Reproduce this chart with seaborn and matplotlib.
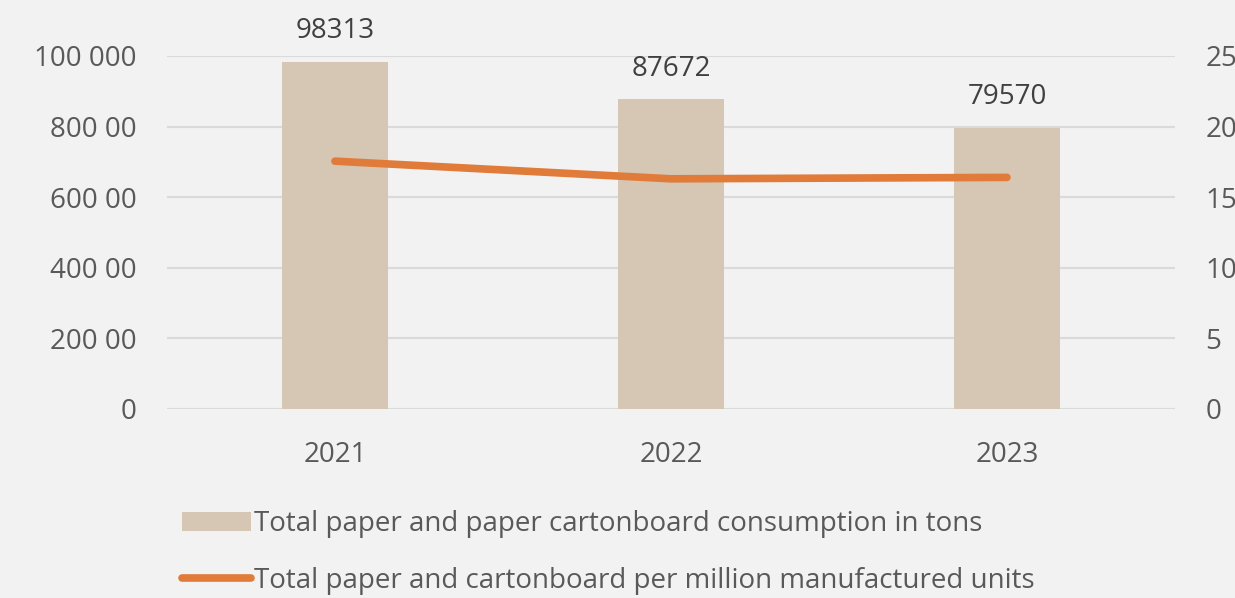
import numpy as np
import pandas as pd
import seaborn as sns
import matplotlib.pyplot as plt

# chart data
years = ['2021', '2022', '2023']
tons = [98313, 87672, 79570]
per_million = [17.55, 16.3, 16.4]
left_ticks = [0, 20000, 40000, 60000, 80000, 100000]
left_tick_labels = ['0', '200 00', '400 00', '600 00', '800 00', '100 000']
right_ticks = [0, 5, 10, 15, 20, 25]
bar_name = 'Total paper and paper cartonboard consumption in tons'
line_name = 'Total paper and cartonboard per million manufactured units'

bg = '#F2F2F2'
bar_color = '#D5C7B3'
line_color = '#E07B39'
text_color = '#595959'
fs = 20

sns.set_theme(style='white')
plt.rcParams['font.family'] = ['Open Sans', 'DejaVu Sans']

df = pd.DataFrame({'year': years, 'tons': tons, 'per_million': per_million})

fig = plt.figure(figsize=(12.35, 5.98), dpi=100, facecolor=bg)
ax = fig.add_axes([0.1352, 0.3161, 0.8162, 0.5903])
ax.set_facecolor(bg)

sns.barplot(data=df, x='year', y='tons', color=bar_color, width=0.315,
            saturation=1, ax=ax, label=bar_name, zorder=2,
            edgecolor='none', linewidth=0)
if ax.get_legend() is not None:
    ax.get_legend().remove()
ax.set_xlim(-0.5, len(years) - 0.5)
ax.set_ylim(0, 100000)
ax.set_yticks(left_ticks)
ax.set_yticklabels(left_tick_labels)
ax.grid(axis='y', color='#DADADA', linewidth=1.5, zorder=0)
ax.set_axisbelow(True)
ax.set_xlabel('')
ax.set_ylabel('')
for s in ax.spines.values():
    s.set_visible(False)
ax.tick_params(axis='y', length=0, pad=22, labelsize=fs, labelcolor=text_color)
ax.tick_params(axis='x', length=0, pad=23, labelsize=fs, labelcolor=text_color)

ax.bar_label(ax.containers[0], labels=[str(v) for v in tons], padding=12,
             fontsize=fs, color='#404040')

ax2 = ax.twinx()
sns.lineplot(x=np.arange(len(years)), y=df['per_million'], color=line_color,
             linewidth=5.5, solid_capstyle='round', ax=ax2, label=line_name,
             legend=False)
ax2.set_ylim(0, 25)
ax2.set_yticks(right_ticks)
ax2.set_ylabel('')
for s in ax2.spines.values():
    s.set_visible(False)
ax2.tick_params(axis='y', length=0, pad=22, labelsize=fs, labelcolor=text_color)

h1, l1 = ax.get_legend_handles_labels()
h2, l2 = ax2.get_legend_handles_labels()
leg = fig.legend(h1 + h2, l1 + l2, loc='center left',
                 bbox_to_anchor=(0.127, 0.076), frameon=False, fontsize=fs,
                 handlelength=2.5, handletextpad=0.1, labelspacing=1.05)
for t in leg.get_texts():
    t.set_color(text_color)

plt.savefig('out.png', dpi=100, facecolor=bg)
